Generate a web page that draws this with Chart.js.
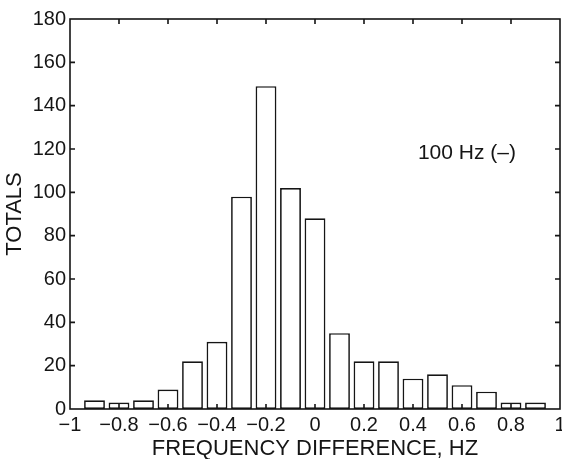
<!DOCTYPE html>
<html>
<head>
<meta charset="utf-8">
<script src="https://cdn.jsdelivr.net/npm/chart.js@4/dist/chart.umd.min.js"></script>
<style>
  html, body { margin: 0; padding: 0; background: #ffffff; }
  #wrap { width: 562px; height: 459px; position: relative; }
</style>
</head>
<body>
<div id="wrap"><canvas id="c"></canvas></div>
<script>
// ---- data ----
const binCenters = [-0.9, -0.8, -0.7, -0.6, -0.5, -0.4, -0.3, -0.2, -0.1, 0, 0.1, 0.2, 0.3, 0.4, 0.5, 0.6, 0.7, 0.8, 0.9];
const totals     = [4, 3, 4, 9, 22, 31, 98, 149, 102, 88, 35, 22, 22, 14, 16, 11, 8, 3, 3];
const xTickValues = [-1, -0.8, -0.6, -0.4, -0.2, 0, 0.2, 0.4, 0.6, 0.8, 1];
const yTickValues = [0, 20, 40, 60, 80, 100, 120, 140, 160, 180];
const xTitle = 'FREQUENCY DIFFERENCE, HZ';
const yTitle = 'TOTALS';
const noteText = '100 Hz (\u2013)';
const noteX = 0.42;
const noteY = 118;

const INK = '#151515';
const FONT = "'Liberation Sans', Arial, Helvetica, sans-serif";

function fmt(v) {
  if (Math.abs(v) < 1e-9) return '0';
  const s = (Math.round(Math.abs(v) * 10) / 10).toString();
  return (v < 0 ? '\u2212' : '') + s;
}

const framePlugin = {
  id: 'frame',
  beforeDraw(chart) {
    const ctx = chart.ctx;
    ctx.save();
    ctx.fillStyle = '#ffffff';
    ctx.fillRect(0, 0, chart.width, chart.height);
    ctx.restore();
  },
  afterDraw(chart) {
    const { ctx, chartArea: a, scales } = chart;
    const tl = 5;
    ctx.save();
    ctx.strokeStyle = INK;
    ctx.lineWidth = 1.6;
    ctx.strokeRect(a.left, a.top, a.right - a.left, a.bottom - a.top);
    ctx.beginPath();
    xTickValues.forEach(v => {
      const px = scales.x.getPixelForValue(v);
      if (px <= a.left + 1 || px >= a.right - 1) return;
      ctx.moveTo(px, a.bottom); ctx.lineTo(px, a.bottom - tl);
      ctx.moveTo(px, a.top); ctx.lineTo(px, a.top + tl);
    });
    yTickValues.forEach(v => {
      const py = scales.y.getPixelForValue(v);
      if (py <= a.top + 1 || py >= a.bottom - 1) return;
      ctx.moveTo(a.left, py); ctx.lineTo(a.left + tl, py);
      ctx.moveTo(a.right, py); ctx.lineTo(a.right - tl, py);
    });
    ctx.stroke();
    // annotation text
    ctx.fillStyle = INK;
    ctx.font = '21px ' + FONT;
    ctx.textAlign = 'left';
    ctx.textBaseline = 'middle';
    ctx.fillText(noteText, scales.x.getPixelForValue(noteX), scales.y.getPixelForValue(noteY));
    ctx.restore();
  }
};

new Chart(document.getElementById('c'), {
  type: 'bar',
  data: {
    datasets: [{
      data: binCenters.map((x, i) => ({ x: x, y: totals[i] })),
      backgroundColor: '#ffffff',
      borderColor: INK,
      borderWidth: 1.7,
      borderSkipped: false,
      barPercentage: 0.85,
      categoryPercentage: 1.0
    }]
  },
  options: {
    responsive: true,
    maintainAspectRatio: false,
    devicePixelRatio: 1,
    animation: false,
    layout: { padding: { left: 0, right: 2, top: 19, bottom: 0 } },
    plugins: { legend: { display: false }, tooltip: { enabled: false } },
    scales: {
      x: {
        type: 'linear',
        min: -1, max: 1,
        offset: false,
        grid: { display: false, drawTicks: false, offset: false },
        border: { display: false },
        afterBuildTicks(scale) { scale.ticks = xTickValues.map(v => ({ value: v })); },
        afterFit(scale) { scale.height = 50; scale.paddingLeft = 0; scale.paddingRight = 0; },
        ticks: {
          color: INK, padding: 4, maxRotation: 0, autoSkip: false,
          font: { family: FONT, size: 20 },
          callback: v => fmt(v)
        },
        title: {
          display: true, text: xTitle, color: INK,
          font: { family: FONT, size: 22 },
          padding: { top: 0, bottom: -3 }
        }
      },
      y: {
        min: 0, max: 180,
        grid: { display: false, drawTicks: false },
        border: { display: false },
        afterBuildTicks(scale) { scale.ticks = yTickValues.map(v => ({ value: v })); },
        afterFit(scale) { scale.width = 70; scale.paddingTop = 0; scale.paddingBottom = 0; },
        ticks: {
          color: INK, padding: 4,
          font: { family: FONT, size: 20 },
          callback: v => String(v)
        },
        title: {
          display: true, text: yTitle, color: INK,
          font: { family: FONT, size: 22 },
          padding: { top: 2, bottom: 0 }
        }
      }
    }
  },
  plugins: [framePlugin]
});
</script>
</body>
</html>
